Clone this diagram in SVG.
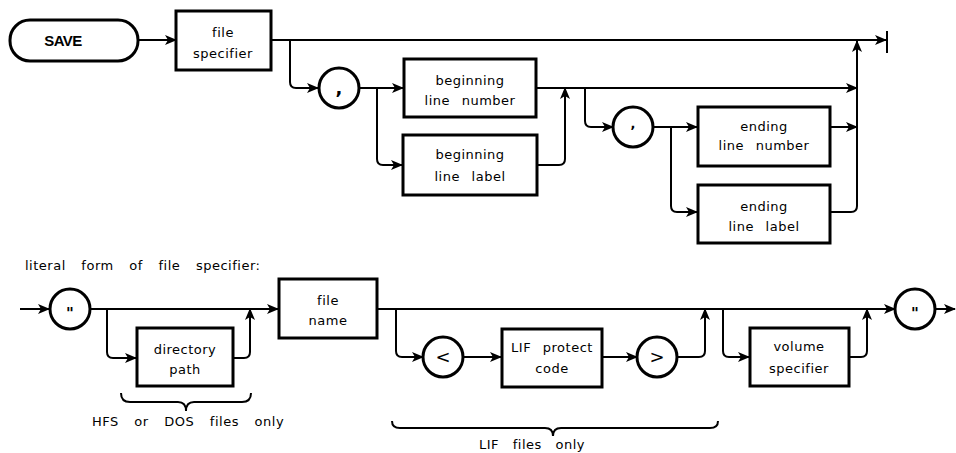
<svg xmlns="http://www.w3.org/2000/svg" width="956" height="453" viewBox="0 0 956 453">
<style>
.box{fill:#fff;stroke:#000;stroke-width:3}
.circ{fill:#fff;stroke:#000;stroke-width:3}
.ln{fill:none;stroke:#000;stroke-width:2}
.t{font-family:"DejaVu Sans","Liberation Sans",sans-serif;font-size:13px;letter-spacing:0.5px;word-spacing:7px;fill:#000;text-anchor:middle}
.tl{text-anchor:start}
.sym{font-family:"DejaVu Sans","Liberation Sans",sans-serif;font-size:18px;font-weight:bold;fill:#000;text-anchor:middle}
.save{font-family:"Liberation Sans",sans-serif;font-size:15px;font-weight:bold;fill:#000;text-anchor:middle;letter-spacing:-0.5px}
</style>
<defs>
<marker id="ar" markerUnits="userSpaceOnUse" markerWidth="12" markerHeight="10" refX="11" refY="5" orient="auto">
<path d="M0,0 L12,5 L0,10 L3,5 z" fill="#000"/>
</marker>
</defs>
<rect width="956" height="453" fill="#fff"/>
<g id="connectors">
<path class="ln" d="M138,40 H176" marker-end="url(#ar)"/>
<path class="ln" d="M271,40 H886" marker-end="url(#ar)"/>
<path class="ln" d="M887,31 V53"/>
<path class="ln" d="M290,40 V82 Q290,88 296,88 H318" marker-end="url(#ar)"/>
<path class="ln" d="M360,88 H403" marker-end="url(#ar)"/>
<path class="ln" d="M377,88 V159 Q377,165 383,165 H402" marker-end="url(#ar)"/>
<path class="ln" d="M537,165 H559 Q565,165 565,159 V88" marker-end="url(#ar)"/>
<path class="ln" d="M536,88 H857" marker-end="url(#ar)"/>
<path class="ln" d="M585,88 V121 Q585,127 591,127 H613" marker-end="url(#ar)"/>
<path class="ln" d="M653,127 H697" marker-end="url(#ar)"/>
<path class="ln" d="M671,127 V206 Q671,212 677,212 H697" marker-end="url(#ar)"/>
<path class="ln" d="M830,127 H857" marker-end="url(#ar)"/>
<path class="ln" d="M830,212 H851 Q857,212 857,206 V41" marker-end="url(#ar)"/>
<path class="ln" d="M20,309 H49" marker-end="url(#ar)"/>
<path class="ln" d="M90,309 H278" marker-end="url(#ar)"/>
<path class="ln" d="M107,309 V352 Q107,358 113,358 H136" marker-end="url(#ar)"/>
<path class="ln" d="M233,358 H244 Q250,358 250,352 V309" marker-end="url(#ar)"/>
<path class="ln" d="M377,309 H895" marker-end="url(#ar)"/>
<path class="ln" d="M396,309 V351 Q396,357 402,357 H423" marker-end="url(#ar)"/>
<path class="ln" d="M463,357 H501" marker-end="url(#ar)"/>
<path class="ln" d="M602,357 H637" marker-end="url(#ar)"/>
<path class="ln" d="M678,357 H699 Q705,357 705,351 V309" marker-end="url(#ar)"/>
<path class="ln" d="M723,309 V351 Q723,357 729,357 H749" marker-end="url(#ar)"/>
<path class="ln" d="M849,357 H861 Q867,357 867,351 V309" marker-end="url(#ar)"/>
<path class="ln" d="M935,309 H955" marker-end="url(#ar)"/>
</g>
<g id="save">
<rect class="box" x="10" y="20" width="128" height="41" rx="20" ry="20"/>
<text class="save" x="63" y="46">SAVE</text>
</g>
<g id="file-specifier">
<rect class="box" x="176" y="11" width="95" height="59"/>
<text class="t" x="223" y="37">file</text>
<text class="t" x="223" y="58">specifier</text>
</g>
<g id="comma1">
<circle class="circ" cx="339" cy="88" r="20"/>
<text class="sym" x="339" y="94">,</text>
</g>
<g id="beginning-line-number">
<rect class="box" x="404" y="59" width="132" height="58"/>
<text class="t" x="470" y="85">beginning</text>
<text class="t" x="470" y="105">line  number</text>
</g>
<g id="beginning-line-label">
<rect class="box" x="403" y="135" width="134" height="60"/>
<text class="t" x="470" y="159">beginning</text>
<text class="t" x="470" y="181">line  label</text>
</g>
<g id="comma2">
<circle class="circ" cx="633" cy="127" r="20"/>
<text class="sym" x="633" y="128" style="font-size:13px">,</text>
</g>
<g id="ending-line-number">
<rect class="box" x="698" y="107" width="132" height="59"/>
<text class="t" x="764" y="131">ending</text>
<text class="t" x="764" y="150">line  number</text>
</g>
<g id="ending-line-label">
<rect class="box" x="698" y="185" width="132" height="58"/>
<text class="t" x="764" y="211">ending</text>
<text class="t" x="764" y="231">line  label</text>
</g>
<text class="t tl" x="25" y="270" style="word-spacing:11px">literal  form  of  file  specifier:</text>
<g id="quote-open">
<circle class="circ" cx="70" cy="309" r="20"/>
<text class="sym" x="70" y="319" style="font-size:15px">"</text>
</g>
<g id="directory-path">
<rect class="box" x="137" y="328" width="96" height="58"/>
<text class="t" x="185" y="354">directory</text>
<text class="t" x="185" y="374">path</text>
</g>
<g id="file-name">
<rect class="box" x="279" y="279" width="98" height="59"/>
<text class="t" x="328" y="305">file</text>
<text class="t" x="328" y="325">name</text>
</g>
<g id="lt">
<circle class="circ" cx="443" cy="357" r="20"/>
<text class="sym" x="443" y="363" style="font-weight:normal">&lt;</text>
</g>
<g id="lif-protect-code">
<rect class="box" x="502" y="329" width="100" height="58"/>
<text class="t" x="552" y="352">LIF  protect</text>
<text class="t" x="552" y="373">code</text>
</g>
<g id="gt">
<circle class="circ" cx="657" cy="357" r="20"/>
<text class="sym" x="657" y="363" style="font-weight:normal">&gt;</text>
</g>
<g id="volume-specifier">
<rect class="box" x="750" y="328" width="99" height="58"/>
<text class="t" x="799" y="351">volume</text>
<text class="t" x="799" y="373">specifier</text>
</g>
<g id="quote-close">
<circle class="circ" cx="915" cy="309" r="20"/>
<text class="sym" x="915" y="319" style="font-size:15px">"</text>
</g>
<g id="braces">
<path class="ln" d="M121,393 Q121,402 130,402 H178 Q186,402 186,411 Q186,402 194,402 H242 Q251,402 251,393"/>
<path class="ln" d="M392,421 Q392,428 400,428 H545 Q553,428 553,436 Q553,428 561,428 H710 Q718,428 718,421"/>
</g>
<text class="t" x="188" y="426" style="word-spacing:11px">HFS  or  DOS  files  only</text>
<text class="t" x="532" y="449" style="word-spacing:9px">LIF  files  only</text>
</svg>
